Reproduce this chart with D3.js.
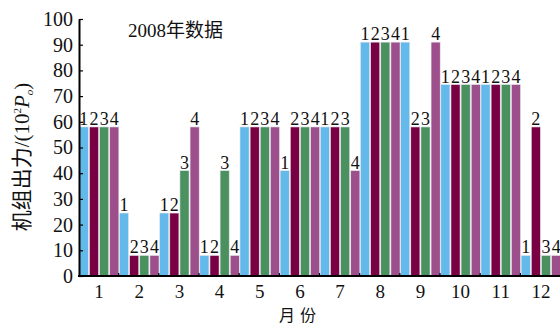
<!DOCTYPE html>
<html>
<head>
<meta charset="utf-8">
<script src="https://cdn.jsdelivr.net/npm/d3@7"></script>
<style>
  html, body { margin: 0; padding: 0; background: #fff; }
  svg { display: block; }
  text { font-family: "Times New Roman", "Liberation Serif", "DejaVu Serif", "Noto Sans CJK SC", serif; fill: #111; }
</style>
</head>
<body>
<svg id="chart" width="560" height="326"></svg>
<script>
// Monthly unit output for four generating units, 2008
const months = ["1", "2", "3", "4", "5", "6", "7", "8", "9", "10", "11", "12"];
const units = ["1", "2", "3", "4"];
const unit1 = [58, 24.5, 24.5, 8, 58, 41, 58, 91, 91, 74.5, 74.5, 8];
const unit2 = [58, 8, 24.5, 8, 58, 58, 58, 91, 58, 74.5, 74.5, 58];
const unit3 = [58, 8, 41, 41, 58, 58, 58, 91, 58, 74.5, 74.5, 8];
const unit4 = [58, 8, 58, 8, 58, 58, 41, 91, 91, 74.5, 74.5, 8];
const yTicks = [0, 10, 20, 30, 40, 50, 60, 70, 80, 90, 100];
const colors = ["#62b9ea", "#7a0044", "#4b915f", "#9c4f8b"];

const seriesValues = [unit1, unit2, unit3, unit4];
const rows = months.map((m, i) => ({
  month: m,
  values: units.map((u, j) => ({ unit: u, value: seriesValues[j][i], idx: j }))
}));

const serif = "'Times New Roman', 'Liberation Serif', 'DejaVu Serif', serif";
const svg = d3.select("#chart");
const plotLeft = 79, plotRight = 561, plotTop = 19, plotBottom = 276;

const x = d3.scaleBand().domain(months).range([plotLeft, plotRight]).paddingInner(0).paddingOuter(0);
const xu = d3.scaleBand().domain(units).range([0, x.bandwidth()]).paddingInner(0.1).paddingOuter(0.03);
const y = d3.scaleLinear().domain([0, 100]).range([plotBottom, plotTop]);

// Bars
const groups = svg.append("g").selectAll("g")
  .data(rows).join("g")
  .attr("transform", d => `translate(${x(d.month)},0)`);

groups.selectAll("rect")
  .data(d => d.values).join("rect")
  .attr("x", d => xu(d.unit))
  .attr("width", xu.bandwidth())
  .attr("y", d => y(d.value))
  .attr("height", d => y(0) - y(d.value))
  .attr("fill", d => colors[d.idx])
  .attr("stroke", "#e8e8f0")
  .attr("stroke-width", 0.6);

// Unit number above each bar
groups.selectAll("text.lbl")
  .data(d => d.values).join("text")
  .attr("class", "lbl")
  .attr("x", d => xu(d.unit) + xu.bandwidth() / 2)
  .attr("y", d => y(d.value) - 2)
  .attr("text-anchor", "middle")
  .style("font-family", serif)
  .style("font-size", "18px")
  .text(d => d.unit);

// Y axis
const yAxis = d3.axisLeft(y).tickValues(yTicks).tickSizeInner(-4).tickSizeOuter(0).tickPadding(6);
const gy = svg.append("g").attr("transform", `translate(${plotLeft},0)`).call(yAxis);
gy.attr("font-family", null);
gy.select(".domain").attr("stroke", "#000").attr("stroke-width", 2);
gy.selectAll(".tick line").attr("stroke", "#000").attr("stroke-width", 1.2);
gy.selectAll(".tick text").style("font-size", "20px")
  .style("font-family", serif).attr("fill", "#111");

// X axis: boundary ticks pointing inward, labels at band centres
const gx = svg.append("g").attr("transform", `translate(0,${plotBottom})`);
gx.append("line").attr("x1", plotLeft - 1).attr("x2", 560).attr("y1", 0).attr("y2", 0)
  .attr("stroke", "#000").attr("stroke-width", 2.2);
gx.selectAll("line.tk").data(months.slice(1)).join("line")
  .attr("class", "tk")
  .attr("x1", d => x(d) - 0.5).attr("x2", d => x(d) - 0.5)
  .attr("y1", 0).attr("y2", -3)
  .attr("stroke", "#000").attr("stroke-width", 1.2);
gx.selectAll("text").data(months).join("text")
  .attr("x", d => x(d) + x.bandwidth() / 2)
  .attr("y", 22)
  .attr("text-anchor", "middle")
  .style("font-family", serif)
  .style("font-size", "19px")
  .text(d => d);

// Axis titles
svg.append("text")
  .attr("x", 300).attr("y", 321)
  .attr("text-anchor", "middle")
  .style("font-size", "16px")
  .style("letter-spacing", "5px")
  .text("月份");

const yt = svg.append("text")
  .attr("transform", "translate(29,157) rotate(-90)")
  .attr("text-anchor", "middle")
  .style("font-size", "21px");
yt.append("tspan").text("机组出力/(10");
yt.append("tspan").attr("dy", -8).style("font-size", "11px").text("2");
yt.append("tspan").attr("dy", 8).style("font-style", "italic").text("P");
yt.append("tspan").attr("dy", 4).style("font-size", "11px").style("font-style", "italic").text("o");
yt.append("tspan").attr("dy", -4).text(")");

svg.append("text")
  .attr("x", 128).attr("y", 37)
  .style("font-size", "19px")
  .text("2008年数据");
</script>
</body>
</html>
